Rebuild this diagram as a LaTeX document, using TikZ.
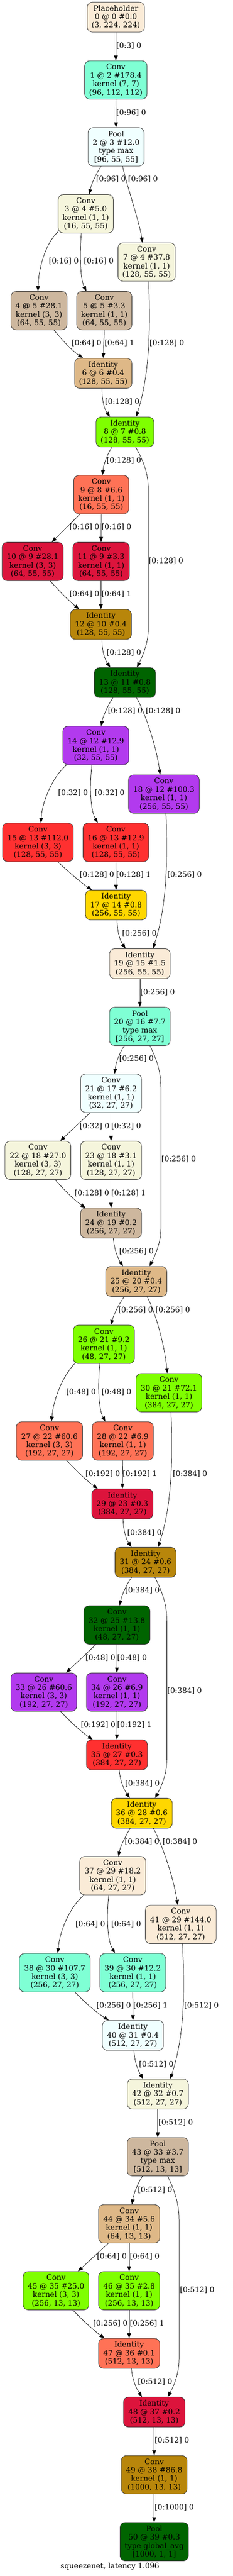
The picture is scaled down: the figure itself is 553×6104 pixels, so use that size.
\documentclass[tikz,border=0pt]{standalone}
\usepackage{fontspec}
\usetikzlibrary{arrows.meta}
\newfontfamily\dvserif{DejaVu Serif}
\newcommand\nodefont{\dvserif\fontsize{17.7}{20}\selectfont}
\definecolor{cAntique}{HTML}{FAEBD7}
\definecolor{cAqua}{HTML}{7FFFD4}
\definecolor{cAzure}{HTML}{F0FFFF}
\definecolor{cBeige}{HTML}{F5F5DC}
\definecolor{cBisque}{HTML}{CDB79E}
\definecolor{cBurly}{HTML}{DEB887}
\definecolor{cChart}{HTML}{7FFF00}
\definecolor{cCoral}{HTML}{FF7256}
\definecolor{cCrimson}{HTML}{DC143C}
\definecolor{cGoldenrod}{HTML}{B8860B}
\definecolor{cDkGreen}{HTML}{006400}
\definecolor{cOrchid}{HTML}{B23AEE}
\definecolor{cFire}{HTML}{FF3030}
\definecolor{cGold}{HTML}{FFD700}
\tikzset{
  nd/.style={draw=black!80, line width=1pt, rounded corners=12pt, inner sep=0pt, align=center, font=\nodefont},
  hthree/.style={minimum height=71pt},
  hfour/.style={minimum height=91pt},
  lb/.style={anchor=west, inner sep=0pt, font=\nodefont},
  ed/.style={line width=0.9pt, -{Triangle[length=12pt,width=9pt]}},
}
\begin{document}
\begin{tikzpicture}[x=1pt,y=-1pt]
\useasboundingbox (0,0) rectangle (553,6104);
% nodes
\node[nd,hthree,fill=cAntique,minimum width=136pt] (p0) at (275,40.5) {Placeholder\\0 @ 0 \#0.0\\(3, 224, 224)};
\node[nd,hfour,fill=cAqua,minimum width=148pt] (c1) at (275,189.5) {Conv\\1 @ 2 \#178.4\\kernel (7, 7)\\(96, 112, 112)};
\node[nd,hfour,fill=cAzure,minimum width=133pt] (p2) at (275.5,348) {Pool\\2 @ 3 \#12.0\\type max\\{[}96, 55, 55{]}};
\node[nd,hfour,fill=cBeige,minimum width=131pt] (c3) at (203.5,506.5) {Conv\\3 @ 4 \#5.0\\kernel (1, 1)\\(16, 55, 55)};
\node[nd,hfour,fill=cBeige,minimum width=136pt] (c7) at (348,621) {Conv\\7 @ 4 \#37.8\\kernel (1, 1)\\(128, 55, 55)};
\node[nd,hfour,fill=cBisque,minimum width=133pt] (c4) at (92.5,736) {Conv\\4 @ 5 \#28.1\\kernel (3, 3)\\(64, 55, 55)};
\node[nd,hfour,fill=cBisque,minimum width=131pt] (c5) at (247.5,736) {Conv\\5 @ 5 \#3.3\\kernel (1, 1)\\(64, 55, 55)};
\node[nd,hthree,fill=cBurly,minimum width=136pt] (i6) at (245,884.5) {Identity\\6 @ 6 \#0.4\\(128, 55, 55)};
\node[nd,hthree,fill=cChart,minimum width=137pt] (i8) at (296.5,1023.5) {Identity\\8 @ 7 \#0.8\\(128, 55, 55)};
\node[nd,hfour,fill=cCoral,minimum width=131pt] (c9) at (240.5,1172) {Conv\\9 @ 8 \#6.6\\kernel (1, 1)\\(16, 55, 55)};
\node[nd,hfour,fill=cCrimson,minimum width=145pt] (c10) at (77.5,1330.5) {Conv\\10 @ 9 \#28.1\\kernel (3, 3)\\(64, 55, 55)};
\node[nd,hfour,fill=cCrimson,minimum width=134pt] (c11) at (240,1330.5) {Conv\\11 @ 9 \#3.3\\kernel (1, 1)\\(64, 55, 55)};
\node[nd,hthree,fill=cGoldenrod,minimum width=145pt] (i12) at (239.5,1479.5) {Identity\\12 @ 10 \#0.4\\(128, 55, 55)};
\node[nd,hthree,fill=cDkGreen,minimum width=145pt] (i13) at (296.5,1617.5) {Identity\\13 @ 11 \#0.8\\(128, 55, 55)};
\node[nd,hfour,fill=cOrchid,minimum width=157pt] (c14) at (227.5,1766.5) {Conv\\14 @ 12 \#12.9\\kernel (1, 1)\\(32, 55, 55)};
\node[nd,hfour,fill=cOrchid,minimum width=168pt] (c18) at (389,1881.5) {Conv\\18 @ 12 \#100.3\\kernel (1, 1)\\(256, 55, 55)};
\node[nd,hfour,fill=cFire,minimum width=168pt] (c15) at (90,1996) {Conv\\15 @ 13 \#112.0\\kernel (3, 3)\\(128, 55, 55)};
\node[nd,hfour,fill=cFire,minimum width=156pt] (c16) at (275,1996) {Conv\\16 @ 13 \#12.9\\kernel (1, 1)\\(128, 55, 55)};
\node[nd,hthree,fill=cGold,minimum width=145pt] (i17) at (275.5,2144.5) {Identity\\17 @ 14 \#0.8\\(256, 55, 55)};
\node[nd,hthree,fill=cAntique,minimum width=144pt] (i19) at (332,2283.5) {Identity\\19 @ 15 \#1.5\\(256, 55, 55)};
\node[nd,hfour,fill=cAqua,minimum width=144pt] (p20) at (332,2432) {Pool\\20 @ 16 \#7.7\\type max\\{[}256, 27, 27{]}};
\node[nd,hfour,fill=cAzure,minimum width=145pt] (c21) at (263.5,2590.5) {Conv\\21 @ 17 \#6.2\\kernel (1, 1)\\(32, 27, 27)};
\node[nd,hfour,fill=cBeige,minimum width=156pt] (c22) at (90,2749.5) {Conv\\22 @ 18 \#27.0\\kernel (3, 3)\\(128, 27, 27)};
\node[nd,hfour,fill=cBeige,minimum width=145pt] (c23) at (263.5,2749.5) {Conv\\23 @ 18 \#3.1\\kernel (1, 1)\\(128, 27, 27)};
\node[nd,hthree,fill=cBisque,minimum width=145pt] (i24) at (263.5,2898) {Identity\\24 @ 19 \#0.2\\(256, 27, 27)};
\node[nd,hthree,fill=cBurly,minimum width=145pt] (i25) at (323.5,3036.5) {Identity\\25 @ 20 \#0.4\\(256, 27, 27)};
\node[nd,hfour,fill=cChart,minimum width=145pt] (c26) at (246.5,3185.5) {Conv\\26 @ 21 \#9.2\\kernel (1, 1)\\(48, 27, 27)};
\node[nd,hfour,fill=cChart,minimum width=156pt] (c30) at (401,3300) {Conv\\30 @ 21 \#72.1\\kernel (1, 1)\\(384, 27, 27)};
\node[nd,hfour,fill=cCoral,minimum width=157pt] (c27) at (117.5,3414.5) {Conv\\27 @ 22 \#60.6\\kernel (3, 3)\\(192, 27, 27)};
\node[nd,hfour,fill=cCoral,minimum width=145pt] (c28) at (291.5,3414.5) {Conv\\28 @ 22 \#6.9\\kernel (1, 1)\\(192, 27, 27)};
\node[nd,hthree,fill=cCrimson,minimum width=145pt] (i29) at (290.5,3563.5) {Identity\\29 @ 23 \#0.3\\(384, 27, 27)};
\node[nd,hthree,fill=cGoldenrod,minimum width=145pt] (i31) at (345.5,3702) {Identity\\31 @ 24 \#0.6\\(384, 27, 27)};
\node[nd,hfour,fill=cDkGreen,minimum width=157pt] (c32) at (277.5,3850.5) {Conv\\32 @ 25 \#13.8\\kernel (1, 1)\\(48, 27, 27)};
\node[nd,hfour,fill=cOrchid,minimum width=156pt] (c33) at (104,4009.5) {Conv\\33 @ 26 \#60.6\\kernel (3, 3)\\(192, 27, 27)};
\node[nd,hfour,fill=cOrchid,minimum width=145pt] (c34) at (277.5,4009.5) {Conv\\34 @ 26 \#6.9\\kernel (1, 1)\\(192, 27, 27)};
\node[nd,hthree,fill=cFire,minimum width=145pt] (i35) at (277.5,4158) {Identity\\35 @ 27 \#0.3\\(384, 27, 27)};
\node[nd,hthree,fill=cGold,minimum width=145pt] (i36) at (336.5,4296.5) {Identity\\36 @ 28 \#0.6\\(384, 27, 27)};
\node[nd,hfour,fill=cAntique,minimum width=157pt] (c37) at (267.5,4444.5) {Conv\\37 @ 29 \#18.2\\kernel (1, 1)\\(64, 27, 27)};
\node[nd,hfour,fill=cAntique,minimum width=168pt] (c41) at (429,4560) {Conv\\41 @ 29 \#144.0\\kernel (1, 1)\\(512, 27, 27)};
\node[nd,hfour,fill=cAqua,minimum width=168pt] (c38) at (130,4674.5) {Conv\\38 @ 30 \#107.7\\kernel (3, 3)\\(256, 27, 27)};
\node[nd,hfour,fill=cAqua,minimum width=156pt] (c39) at (315,4674.5) {Conv\\39 @ 30 \#12.2\\kernel (1, 1)\\(256, 27, 27)};
\node[nd,hthree,fill=cAzure,minimum width=145pt] (i40) at (315.5,4823) {Identity\\40 @ 31 \#0.4\\(512, 27, 27)};
\node[nd,hthree,fill=cBeige,minimum width=145pt] (i42) at (374.5,4962) {Identity\\42 @ 32 \#0.7\\(512, 27, 27)};
\node[nd,hfour,fill=cBisque,minimum width=145pt] (p43) at (374.5,5110.5) {Pool\\43 @ 33 \#3.7\\type max\\{[}512, 13, 13{]}};
\node[nd,hfour,fill=cBurly,minimum width=145pt] (c44) at (306.5,5269.5) {Conv\\44 @ 34 \#5.6\\kernel (1, 1)\\(64, 13, 13)};
\node[nd,hfour,fill=cChart,minimum width=156pt] (c45) at (133,5428) {Conv\\45 @ 35 \#25.0\\kernel (3, 3)\\(256, 13, 13)};
\node[nd,hfour,fill=cChart,minimum width=145pt] (c46) at (306.5,5428) {Conv\\46 @ 35 \#2.8\\kernel (1, 1)\\(256, 13, 13)};
\node[nd,hthree,fill=cCoral,minimum width=145pt] (i47) at (306.5,5576.5) {Identity\\47 @ 36 \#0.1\\(512, 13, 13)};
\node[nd,hthree,fill=cCrimson,minimum width=146pt] (i48) at (366,5715.5) {Identity\\48 @ 37 \#0.2\\(512, 13, 13)};
\node[nd,hfour,fill=cGoldenrod,minimum width=156pt] (c49) at (366,5864) {Conv\\49 @ 38 \#86.8\\kernel (1, 1)\\(1000, 13, 13)};
\node[nd,hfour,fill=cDkGreen,minimum width=162pt] (p50) at (366,6022.5) {Pool\\50 @ 39 \#0.3\\type global\_avg\\{[}1000, 1, 1{]}};
\node[inner sep=0pt,font=\nodefont] (title) at (261,6082) {squeezenet, latency 1.096};
% edges
\draw[ed] (p0.south) -- (c1.north);
\draw[ed] (c1.south) -- (p2.north);
\draw[ed] ([xshift=-35.5pt]p2.south) .. controls (229,410) and (217,435) .. ([xshift=8.5pt]c3.north);
\draw[ed] ([xshift=15.5pt]p2.south) .. controls (301,440) and (332,530) .. ([xshift=-10pt]c7.north);
\draw[ed] ([yshift=3pt]c3.south west) .. controls (110,575) and (92,630) .. ([xshift=-2.5pt]c4.north);
\draw[ed] ([xshift=-10.5pt]c3.south) .. controls (189,600) and (190,660) .. ([xshift=-42.5pt]c5.north);
\draw[ed] ([xshift=35.5pt]c4.south) .. controls (145,803) and (170,830) .. ([xshift=-48pt]i6.north);
\draw[ed] (c5.south) -- (i6.north);
\draw[ed] ([xshift=5pt]c7.south) .. controls (356,760) and (358,880) .. ([xshift=26.5pt]i8.north);
\draw[ed] ([xshift=-3pt]i6.south) .. controls (242,950) and (248,970) .. ([xshift=-35.5pt]i8.north);
\draw[ed] ([xshift=-30.5pt]i8.south) .. controls (255,1075) and (246,1100) .. ([xshift=2.5pt]c9.north);
\draw[ed] ([xshift=25.5pt]i8.south) .. controls (340,1092) and (352,1120) .. (352,1160) -- (352,1490) .. controls (352,1525) and (338,1555) .. ([xshift=28.5pt]i13.north);
\draw[ed] ([xshift=-50.5pt]c9.south) -- ([xshift=45.5pt]c10.north);
\draw[ed] (c9.south) -- (c11.north);
\draw[ed] ([xshift=41.5pt]c10.south) .. controls (140,1400) and (165,1425) .. ([xshift=-51.5pt]i12.north);
\draw[ed] (c11.south) -- (i12.north);
\draw[ed] ([xshift=2.5pt]i12.south) .. controls (242,1545) and (250,1565) .. ([xshift=-34.5pt]i13.north);
\draw[ed] ([xshift=-28.5pt]i13.south) .. controls (257,1670) and (245,1695) .. ([xshift=12.5pt]c14.north);
\draw[ed] ([xshift=27.5pt]i13.south) .. controls (340,1680) and (370,1760) .. ([xshift=-9pt]c18.north);
\draw[ed] ([xshift=-69.5pt]c14.south) .. controls (125,1840) and (100,1900) .. ([xshift=7pt]c15.north);
\draw[ed] ([xshift=-9.5pt]c14.south) .. controls (212,1870) and (215,1920) .. ([xshift=-43pt]c16.north);
\draw[ed] ([xshift=47pt]c15.south) .. controls (160,2063) and (190,2090) .. ([xshift=-57.5pt]i17.north);
\draw[ed] (c16.south) -- (i17.north);
\draw[ed] ([xshift=5pt]c18.south) .. controls (397,2020) and (399,2140) .. ([xshift=31pt]i19.north);
\draw[ed] ([xshift=2.5pt]i17.south) .. controls (278,2210) and (286,2230) .. ([xshift=-34pt]i19.north);
\draw[ed] (i19.south) -- (p20.north);
\draw[ed] ([xshift=-37pt]p20.south) .. controls (283,2495) and (275,2520) .. ([xshift=8.5pt]c21.north);
\draw[ed] ([xshift=24pt]p20.south) .. controls (372,2510) and (382,2540) .. (382,2580) -- (382,2910) .. controls (382,2945) and (368,2975) .. ([xshift=31.5pt]i25.north);
\draw[ed] ([xshift=-49.5pt]c21.south) -- ([xshift=53pt]c22.north);
\draw[ed] (c21.south) -- (c23.north);
\draw[ed] ([xshift=41pt]c22.south) .. controls (150,2817) and (175,2843) .. ([xshift=-60.5pt]i24.north);
\draw[ed] (c23.south) -- (i24.north);
\draw[ed] ([xshift=5.5pt]i24.south) .. controls (271,2960) and (280,2982) .. ([xshift=-31.5pt]i25.north);
\draw[ed] ([xshift=-28.5pt]i25.south) .. controls (282,3090) and (270,3115) .. ([xshift=16.5pt]c26.north);
\draw[ed] ([xshift=25.5pt]i25.south) .. controls (365,3100) and (390,3180) .. ([xshift=-4pt]c30.north);
\draw[ed] ([xshift=-69.5pt]c26.south) .. controls (150,3260) and (128,3310) .. ([xshift=4.5pt]c27.north);
\draw[ed] ([xshift=-9.5pt]c26.south) .. controls (231,3290) and (235,3340) .. ([xshift=-41.5pt]c28.north);
\draw[ed] ([xshift=40.5pt]c27.south) .. controls (178,3482) and (205,3508) .. ([xshift=-58.5pt]i29.north);
\draw[ed] (c28.south) -- (i29.north);
\draw[ed] ([xshift=5pt]c30.south) .. controls (409,3440) and (411,3560) .. ([xshift=29.5pt]i31.north);
\draw[ed] ([xshift=1.5pt]i29.south) .. controls (293,3628) and (300,3648) .. ([xshift=-33.5pt]i31.north);
\draw[ed] ([xshift=-33.5pt]i31.south) .. controls (300,3755) and (289,3780) .. ([xshift=6.5pt]c32.north);
\draw[ed] ([xshift=22.5pt]i31.south) .. controls (384,3770) and (396,3800) .. (396,3840) -- (396,4170) .. controls (396,4205) and (382,4235) .. ([xshift=31.5pt]i36.north);
\draw[ed] ([xshift=-49.5pt]c32.south) -- ([xshift=53pt]c33.north);
\draw[ed] (c32.south) -- (c34.north);
\draw[ed] ([xshift=40pt]c33.south) .. controls (164,4077) and (192,4103) .. ([xshift=-57.5pt]i35.north);
\draw[ed] (c34.south) -- (i35.north);
\draw[ed] ([xshift=5.5pt]i35.south) .. controls (285,4220) and (295,4242) .. ([xshift=-28.5pt]i36.north);
\draw[ed] ([xshift=-27.5pt]i36.south) .. controls (298,4350) and (286,4375) .. ([xshift=13.5pt]c37.north);
\draw[ed] ([xshift=27.5pt]i36.south) .. controls (380,4360) and (410,4440) .. ([xshift=-7pt]c41.north);
\draw[ed] ([xshift=-68.5pt]c37.south) .. controls (165,4520) and (142,4575) .. ([xshift=7pt]c38.north);
\draw[ed] ([xshift=-9.5pt]c37.south) .. controls (252,4550) and (256,4600) .. ([xshift=-42pt]c39.north);
\draw[ed] ([xshift=48pt]c38.south) .. controls (198,4742) and (228,4768) .. ([xshift=-57.5pt]i40.north);
\draw[ed] (c39.south) -- (i40.north);
\draw[ed] ([xshift=4pt]c41.south) .. controls (438,4700) and (440,4820) .. ([xshift=29.5pt]i42.north);
\draw[ed] ([xshift=2.5pt]i40.south) .. controls (319,4885) and (328,4907) .. ([xshift=-34.5pt]i42.north);
\draw[ed] (i42.south) -- (p43.north);
\draw[ed] ([xshift=-36.5pt]p43.south) .. controls (326,5175) and (317,5200) .. ([xshift=6.5pt]c44.north);
\draw[ed] ([xshift=23.5pt]p43.south) .. controls (414,5190) and (425,5220) .. (425,5260) -- (425,5590) .. controls (425,5625) and (412,5655) .. ([xshift=32pt]i48.north);
\draw[ed] ([xshift=-49.5pt]c44.south) -- ([xshift=52pt]c45.north);
\draw[ed] (c44.south) -- (c46.north);
\draw[ed] ([xshift=40pt]c45.south) .. controls (193,5495) and (220,5520) .. ([xshift=-58.5pt]i47.north);
\draw[ed] (c46.south) -- (i47.north);
\draw[ed] ([xshift=5.5pt]i47.south) .. controls (314,5640) and (324,5660) .. ([xshift=-29pt]i48.north);
\draw[ed] (i48.south) -- (c49.north);
\draw[ed] (c49.south) -- (p50.north);
% edge labels
\node[lb] (l1) at (276,108) {[0:3] 0};
\node[lb] (l2) at (276,267) {[0:96] 0};
\node[lb] (l3) at (228,425) {[0:96] 0};
\node[lb] (l4) at (304,425) {[0:96] 0};
\node[lb] (l5) at (116,619) {[0:16] 0};
\node[lb] (l6) at (199,619) {[0:16] 0};
\node[lb] (l7) at (170,813) {[0:64] 0};
\node[lb] (l8) at (248,813) {[0:64] 1};
\node[lb] (l9) at (355,813) {[0:128] 0};
\node[lb] (l10) at (249,952) {[0:128] 0};
\node[lb] (l11) at (253,1091) {[0:128] 0};
\node[lb] (l12) at (353,1329) {[0:128] 0};
\node[lb] (l13) at (165,1249) {[0:16] 0};
\node[lb] (l14) at (241,1249) {[0:16] 0};
\node[lb] (l15) at (165,1408) {[0:64] 0};
\node[lb] (l16) at (241,1408) {[0:64] 1};
\node[lb] (l17) at (253,1547) {[0:128] 0};
\node[lb] (l18) at (256,1685) {[0:128] 0};
\node[lb] (l19) at (346,1685) {[0:128] 0};
\node[lb] (l20) at (138,1879) {[0:32] 0};
\node[lb] (l21) at (225,1879) {[0:32] 0};
\node[lb] (l22) at (189,2073) {[0:128] 0};
\node[lb] (l23) at (276,2073) {[0:128] 1};
\node[lb] (l24) at (397,2073) {[0:256] 0};
\node[lb] (l25) at (290,2212) {[0:256] 0};
\node[lb] (l26) at (333,2351) {[0:256] 0};
\node[lb] (l27) at (283,2509) {[0:256] 0};
\node[lb] (l28) at (383,2747) {[0:256] 0};
\node[lb] (l29) at (189,2668) {[0:32] 0};
\node[lb] (l30) at (264,2668) {[0:32] 0};
\node[lb] (l31) at (177,2827) {[0:128] 0};
\node[lb] (l32) at (264,2827) {[0:128] 1};
\node[lb] (l33) at (283,2965) {[0:256] 0};
\node[lb] (l34) at (281,3104) {[0:256] 0};
\node[lb] (l35) at (369,3104) {[0:256] 0};
\node[lb] (l36) at (157,3298) {[0:48] 0};
\node[lb] (l37) at (241,3298) {[0:48] 0};
\node[lb] (l38) at (203,3492) {[0:192] 0};
\node[lb] (l39) at (291,3492) {[0:192] 1};
\node[lb] (l40) at (410,3492) {[0:384] 0};
\node[lb] (l41) at (302,3632) {[0:384] 0};
\node[lb] (l42) at (297,3769) {[0:384] 0};
\node[lb] (l43) at (397,4007) {[0:384] 0};
\node[lb] (l44) at (203,3928) {[0:48] 0};
\node[lb] (l45) at (278,3928) {[0:48] 0};
\node[lb] (l46) at (192,4087) {[0:192] 0};
\node[lb] (l47) at (278,4087) {[0:192] 1};
\node[lb] (l48) at (297,4226) {[0:384] 0};
\node[lb] (l49) at (296,4364) {[0:384] 0};
\node[lb] (l50) at (386,4364) {[0:384] 0};
\node[lb] (l51) at (179,4559) {[0:64] 0};
\node[lb] (l52) at (264,4559) {[0:64] 0};
\node[lb] (l53) at (229,4753) {[0:256] 0};
\node[lb] (l54) at (316,4753) {[0:256] 1};
\node[lb] (l55) at (437,4753) {[0:512] 0};
\node[lb] (l56) at (330,4892) {[0:512] 0};
\node[lb] (l57) at (376,5029) {[0:512] 0};
\node[lb] (l58) at (327,5189) {[0:512] 0};
\node[lb] (l59) at (427,5426) {[0:512] 0};
\node[lb] (l60) at (230,5347) {[0:64] 0};
\node[lb] (l61) at (308,5347) {[0:64] 0};
\node[lb] (l62) at (221,5506) {[0:256] 0};
\node[lb] (l63) at (308,5506) {[0:256] 1};
\node[lb] (l64) at (327,5644) {[0:512] 0};
\node[lb] (l65) at (367,5783) {[0:512] 0};
\node[lb] (l66) at (367,5941) {[0:1000] 0};
\end{tikzpicture}
\end{document}
